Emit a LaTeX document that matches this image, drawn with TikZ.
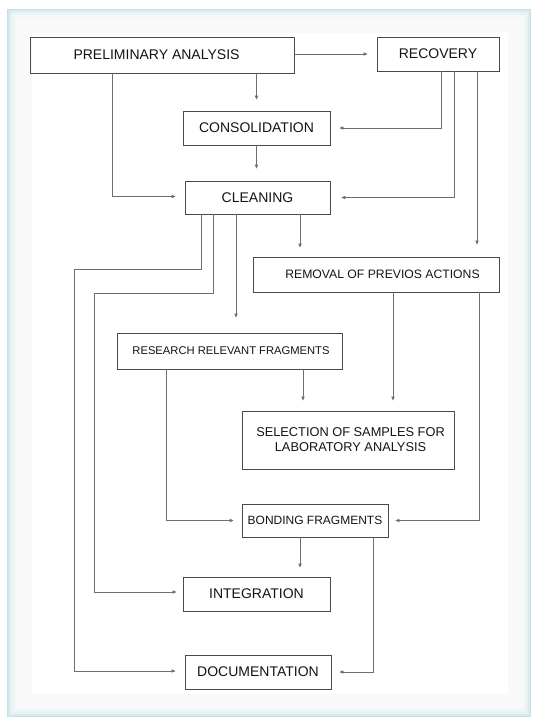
\documentclass[tikz,border=0pt]{standalone}
\usepackage{fontspec}
\setmainfont{Liberation Sans}
\usetikzlibrary{arrows.meta}
\definecolor{panelteal}{HTML}{C8E1E7}
\definecolor{boxgray}{HTML}{4A4A4A}
\definecolor{linegray}{HTML}{6E6E6E}
\definecolor{textcol}{HTML}{141414}
\begin{document}
\begin{tikzpicture}[x=1pt,y=-1pt,
  box/.style={draw=boxgray, line width=0.8pt, inner sep=0pt, text=textcol, align=center,
              font=\fontsize{14}{16}\selectfont},
  arr/.style={draw=linegray, line width=0.6pt, -{Triangle[length=4pt,width=3.2pt]}, shorten >=9pt}]
\useasboundingbox (0,0) rectangle (537,717);
% panel with soft teal edge
\fill[panelteal] (7,9) rectangle (531,717);
\foreach \k in {1,...,32}
  \fill[white, opacity=0.16] (7+\k*0.75, 9+\k*0.7) rectangle (531-\k*0.7, 717-\k*0.7);
\fill[white] (32,33) rectangle (508,694);

% boxes
\node[box, minimum width=264pt, minimum height=36pt] (prelim) at (162,55) {PRELIMINARY ANALYSIS\hspace{11pt}};
\node[box, minimum width=122pt, minimum height=34pt] (recovery) at (438,54) {RECOVERY};
\node[box, minimum width=147pt, minimum height=34pt] (consol) at (256.5,128) {CONSOLIDATION};
\node[box, minimum width=145pt, minimum height=33pt] (cleaning) at (257.5,197.5) {CLEANING};
\node[box, minimum width=246pt, minimum height=35pt, font=\fontsize{12.2}{14}\selectfont] (removal) at (376,274.5) {\hspace{13pt}REMOVAL OF PREVIOS ACTIONS};
\node[box, minimum width=225pt, minimum height=36pt, font=\fontsize{11.2}{13}\selectfont] (research) at (229.5,351) {\hspace{3pt}RESEARCH RELEVANT FRAGMENTS};
\node[box, minimum width=212pt, minimum height=58pt, font=\fontsize{12.8}{15}\selectfont] (selection) at (348,440) {\hspace{5pt}SELECTION OF SAMPLES FOR\\\hspace{5pt}LABORATORY ANALYSIS};
\node[box, minimum width=146pt, minimum height=33pt, font=\fontsize{12}{14}\selectfont] (bonding) at (315,520.5) {BONDING FRAGMENTS};
\node[box, minimum width=147pt, minimum height=34pt] (integration) at (256.5,594) {INTEGRATION};
\node[box, minimum width=146pt, minimum height=34pt] (documentation) at (258,672) {DOCUMENTATION};

% bend points
\coordinate (bendA) at (74,269);
\coordinate (bendB) at (94,293);

% connectors
\draw[arr] (prelim.east |- recovery.west) -- (recovery.west);
\draw[arr, shorten >=11pt] (prelim.south -| consol.north) -- (consol.north);
\draw[arr] ([xshift=3pt]recovery.south) |- (consol.east);
\draw[arr, shorten >=12pt] (consol.south) -- (consol.south |- cleaning.north);
\draw[arr] ([xshift=83pt]prelim.south west) |- ([yshift=1pt]cleaning.west);
\draw[arr, shorten >=11pt] ([xshift=16pt]recovery.south) |- (cleaning.east);
\draw[arr, shorten >=12pt] ([xshift=39pt]recovery.south) -- ([xshift=39pt]recovery.south |- removal.north);
\draw[arr] ([xshift=-56.5pt]cleaning.south) |- (bendA) |- ([yshift=1pt]documentation.west);
\draw[arr, shorten >=6pt] ([xshift=-44.5pt]cleaning.south) |- (bendB) |- ([yshift=2pt]integration.west);
\draw[arr, shorten >=15pt] ([xshift=-21.5pt]cleaning.south) -- ([xshift=-21.5pt]cleaning.south |- research.north);
\draw[arr] ([xshift=42.5pt]cleaning.south) -- ([xshift=42.5pt]cleaning.south |- removal.north);
\draw[arr, shorten >=10pt] ([xshift=17pt]removal.south) -- ([xshift=17pt]removal.south |- selection.north);
\draw[arr, shorten >=7pt] ([xshift=-20pt]removal.south east) |- (bonding.east);
\draw[arr, shorten >=10pt] ([xshift=73.5pt]research.south) -- ([xshift=73.5pt]research.south |- selection.north);
\draw[arr, shorten >=8pt] ([xshift=50pt]research.south west) |- (bonding.west);
\draw[arr] ([xshift=-15pt]bonding.south) -- ([xshift=-15pt]bonding.south |- integration.north);
\draw[arr, shorten >=8pt] ([xshift=58pt]bonding.south) |- (documentation.east);
\end{tikzpicture}
\end{document}
